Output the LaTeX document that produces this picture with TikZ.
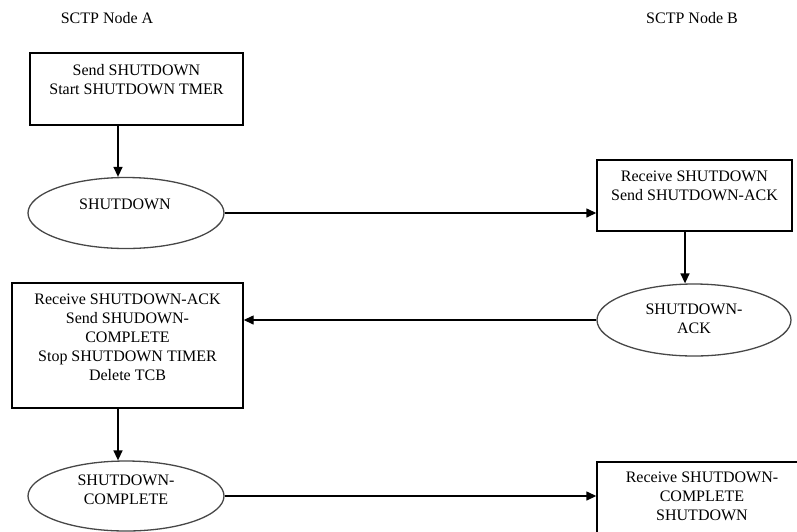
\documentclass[tikz,border=0pt]{standalone}
\usepackage{fontspec}
\setmainfont{Liberation Serif}
\usetikzlibrary{arrows.meta,shapes.geometric}
\begin{document}
\begin{tikzpicture}[x=1pt,y=-1pt,
  txt/.style={font=\fontsize{16}{19}\selectfont, align=center, inner sep=0pt},
  boxshape/.style={draw=black, line width=1.4pt, rectangle, inner sep=0pt},
  ellshape/.style={draw=black!72, line width=1.3pt, ellipse, inner sep=0pt},
  arr/.style={draw=black, line width=1.4pt, -{Triangle[length=10pt,width=9pt]}}
]
\useasboundingbox (0,0) rectangle (797,531);
\clip (0,0) rectangle (797,531);

% titles
\node[txt] (tA) at (107,18.5) {SCTP Node A};
\node[txt] (tB) at (692,18.5) {SCTP Node B};

% boxes
\node[boxshape, minimum width=213pt, minimum height=72pt] (b1) at (136.5,89) {};
\node[txt, anchor=north] (b1t) at ([yshift=-11.5pt]b1.north) {Send SHUTDOWN\\Start SHUTDOWN TMER};

\node[boxshape, minimum width=195pt, minimum height=71pt] (bB1) at (694.5,195.5) {};
\node[txt, anchor=north] (bB1t) at ([yshift=-11.5pt]bB1.north) {Receive SHUTDOWN\\Send SHUTDOWN-ACK};

\node[boxshape, minimum width=231pt, minimum height=125pt] (bA2) at (127.5,345.5) {};
\node[txt, anchor=north] (bA2t) at ([yshift=-11.5pt]bA2.north) {Receive SHUTDOWN-ACK\\Send SHUDOWN-\\COMPLETE\\Stop SHUTDOWN TIMER\\Delete TCB};

\node[boxshape, minimum width=210pt, minimum height=108pt] (bB2) at (702,516) {};
\node[txt, anchor=north] (bB2t) at ([yshift=-10pt]bB2.north) {Receive SHUTDOWN-\\COMPLETE\\SHUTDOWN};

% ellipses
\node[ellshape, minimum width=196pt, minimum height=71pt] (e1) at (126,213) {};
\node[txt] (e1t) at (125,204.5) {SHUTDOWN};

\node[ellshape, minimum width=194pt, minimum height=72pt] (eA) at (694,320) {};
\node[txt] (eAt) at (694,318.5) {SHUTDOWN-\\ACK};

\node[ellshape, minimum width=196pt, minimum height=70pt] (e3) at (126,496) {};
\node[txt] (e3t) at (126,490) {SHUTDOWN-\\COMPLETE};

% connectors
\draw[arr] ([xshift=-18.5pt]b1.south) -- ([xshift=-8pt]e1.north);
\draw[arr] (e1.east) -- (e1.east -| bB1.west);
\draw[arr] ([xshift=-9.5pt]bB1.south) -- ([xshift=-9pt]eA.north);
\draw[arr] (eA.west) -- (eA.west -| bA2.east);
\draw[arr] ([xshift=-9.5pt]bA2.south) -- ([xshift=-8pt]e3.north);
\draw[arr] (e3.east) -- (e3.east -| bB2.west);
\end{tikzpicture}
\end{document}
